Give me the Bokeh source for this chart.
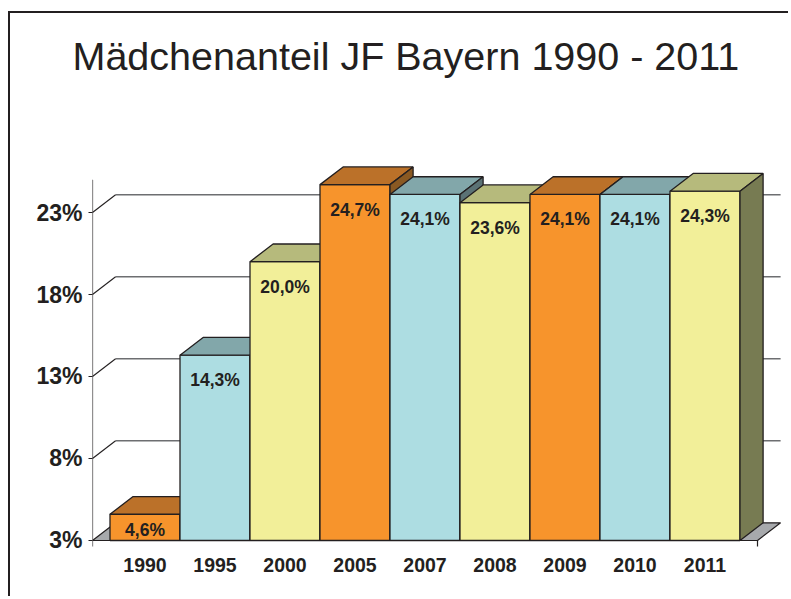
from bokeh.plotting import figure
from bokeh.models import Range1d, FixedTicker, PrintfTickFormatter
from bokeh.embed import file_html
from bokeh.resources import INLINE
from bokeh.core.properties import value

# ---- data ----
years = ["1990", "1995", "2000", "2005", "2007", "2008", "2009", "2010", "2011"]
shares = [4.6, 14.3, 20.0, 24.7, 24.1, 23.6, 24.1, 24.1, 24.3]
share_labels = ["4,6%", "14,3%", "20,0%", "24,7%", "24,1%", "23,6%", "24,1%", "24,1%", "24,3%"]
y_ticks = [3, 8, 13, 18, 23]
axis_min = 3
axis_max = 25
title_text = "Mädchenanteil JF Bayern 1990 - 2011"

# ---- styles ----
face_styles = [  # (front, top, side)
    ("#F7942C", "#BB7129", "#8A5922"),
    ("#ADDDE2", "#82A7AA", "#5B7275"),
    ("#F2EF99", "#B6BA7C", "#777B52"),
]
INK = "#231F20"
GRID = "#6D6E71"
FLOOR = "#A7A9AC"
FONT = "Liberation Sans"

# ---- 3D geometry (data units) ----
PAD = 0.25          # floor margin beside outer bars
DX = 0.33           # depth offset in x (category units)
DY = 1.08           # depth offset in y (percent units)
TICK = 0.37         # small tick below the floor
LABEL_DROP = 1.52   # value label below bar top
LOW_FRAC = 0.4      # label position inside very short bars

n = len(years)
x_lo = -0.5 - PAD
x_hi = n - 0.5 + PAD

p = figure(width=780, height=585,
           x_range=Range1d(x_lo, 9.2214), y_range=Range1d(2.512, 31.049),
           output_backend="svg", toolbar_location=None,
           min_border_left=82, min_border_right=0, min_border_top=67, min_border_bottom=50)
p.styles = {"border-left": "2px solid " + INK, "border-top": "2px solid " + INK,
            "position": "relative", "top": "11px", "left": "8px"}
p.xgrid.visible = False
p.ygrid.visible = False
p.outline_line_color = None
p.background_fill_color = "white"
p.border_fill_color = "white"

p.title.text = title_text
p.title.align = "left"
p.title.vertical_align = "bottom"
p.title.text_font = FONT
p.title.text_font_size = "39.5px"
p.title.text_font_style = "normal"
p.title.text_color = INK
p.title.offset = -20
p.title.standoff = 5

# floor
p.patch(x=[x_lo, x_hi, x_hi + DX, x_lo + DX], y=[axis_min, axis_min, axis_min + DY, axis_min + DY],
        fill_color=FLOOR, line_color=INK, line_width=1.2)

# back-wall gridlines and left-wall diagonals
gt = y_ticks[1:]
p.segment(x0=[x_lo + DX] * len(gt), y0=[t + DY for t in gt], x1=[x_hi + DX] * len(gt), y1=[t + DY for t in gt],
          line_color=GRID, line_width=1.6)
p.segment(x0=[x_lo] * len(gt), y0=gt, x1=[x_lo + DX] * len(gt), y1=[t + DY for t in gt],
          line_color=INK, line_width=1.1)

# front axis line and bottom end ticks
p.segment(x0=[x_lo, x_hi], y0=[axis_min - TICK, axis_min - TICK], x1=[x_lo, x_hi], y1=[axis_max, axis_min],
          line_color=INK, line_width=1.2)

# bars (front, top, side), painted left to right
xs, ys, fills = [], [], []
for i, v in enumerate(shares):
    l, r = i - 0.5, i + 0.5
    front, top, side = face_styles[i % 3]
    xs += [[l, r, r, l], [l, r, r + DX, l + DX], [r, r + DX, r + DX, r]]
    ys += [[axis_min, axis_min, v, v], [v, v, v + DY, v + DY], [axis_min, axis_min + DY, v + DY, v]]
    fills += [front, top, side]
p.patches(xs=xs, ys=ys, fill_color=fills, line_color=INK, line_width=1.3)

# value labels
label_y = [max(v - LABEL_DROP, axis_min + (v - axis_min) * LOW_FRAC) for v in shares]
p.text(x=list(range(n)), y=label_y, text=share_labels,
       text_font=value(FONT), text_font_style="bold", text_font_size="17.5px",
       text_align="center", text_baseline="middle", text_color=INK)

# axes
xa = p.xaxis[0]
xa.ticker = FixedTicker(ticks=list(range(n)))
xa.major_label_overrides = {i: y for i, y in enumerate(years)}
xa.axis_line_color = None
xa.major_tick_line_color = None
xa.minor_tick_line_color = None
xa.major_tick_out = 0
xa.major_label_standoff = 9
xa.major_label_text_font = FONT
xa.major_label_text_font_style = "bold"
xa.major_label_text_font_size = "19.5px"
xa.major_label_text_color = INK

ya = p.yaxis[0]
ya.ticker = FixedTicker(ticks=y_ticks)
ya.formatter = PrintfTickFormatter(format="%d%%")
ya.axis_line_color = None
ya.major_tick_line_color = INK
ya.major_tick_line_width = 1.2
ya.major_tick_in = 0
ya.major_tick_out = 4
ya.minor_tick_line_color = None
ya.major_label_standoff = 6
ya.major_label_text_font = FONT
ya.major_label_text_font_style = "bold"
ya.major_label_text_font_size = "23px"
ya.major_label_text_color = INK

open("out.html", "w").write(file_html(p, INLINE))
